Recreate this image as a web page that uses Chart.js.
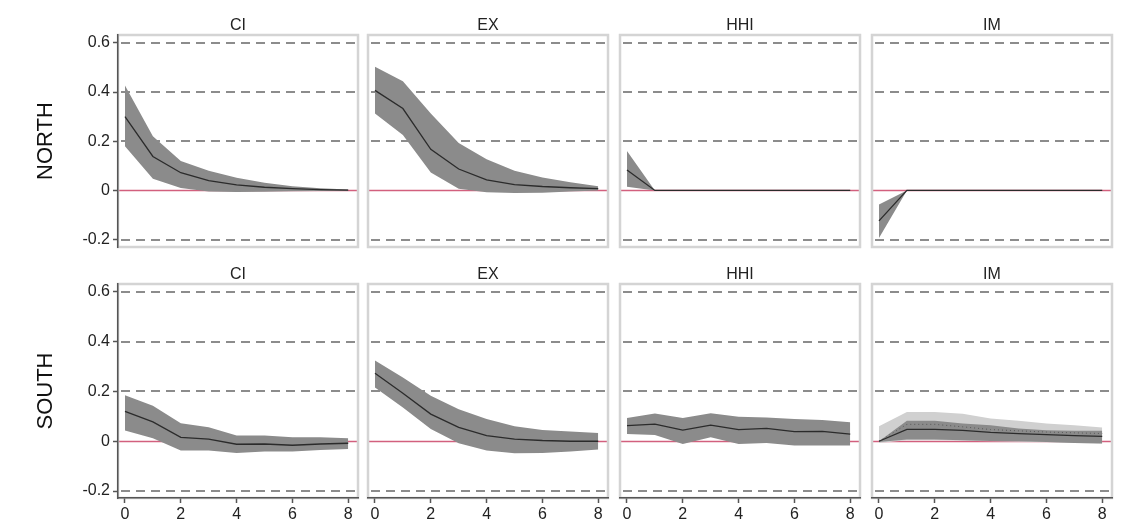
<!DOCTYPE html>
<html>
<head>
<meta charset="utf-8">
<script src="https://cdn.jsdelivr.net/npm/chart.js@4.4.0/dist/chart.umd.min.js"></script>
<style>
  html, body { margin: 0; padding: 0; background: #fff; }
  #wrap { position: relative; width: 1129px; height: 526px; overflow: hidden; }
  #wrap canvas { position: absolute; }
</style>
</head>
<body>
<div id="wrap"></div>
<script>
// Sumbu
const horizons = [0, 1, 2, 3, 4, 5, 6, 7, 8];
const yTickValues = [-0.2, 0, 0.2, 0.4, 0.6];
const xTickValues = [0, 2, 4, 6, 8];
const rowNames = ['NORTH', 'SOUTH'];
const colNames = ['CI', 'EX', 'HHI', 'IM'];

// NORTH
const northCiMid = [0.30, 0.138, 0.072, 0.040, 0.023, 0.013, 0.007, 0.003, 0.001];
const northCiHi  = [0.427, 0.22, 0.12, 0.08, 0.052, 0.031, 0.017, 0.009, 0.004];
const northCiLo  = [0.18, 0.047, 0.01, -0.004, -0.006, -0.005, -0.003, -0.002, -0.001];

const northExMid = [0.407, 0.333, 0.167, 0.087, 0.043, 0.024, 0.016, 0.011, 0.007];
const northExHi  = [0.503, 0.444, 0.313, 0.193, 0.127, 0.08, 0.053, 0.033, 0.017];
const northExLo  = [0.313, 0.225, 0.073, 0.007, -0.007, -0.01, -0.009, -0.004, 0.0];

const northHhiMid = [0.083, 0, 0, 0, 0, 0, 0, 0, 0];
const northHhiHi  = [0.16, 0, 0, 0, 0, 0, 0, 0, 0];
const northHhiLo  = [0.015, 0, 0, 0, 0, 0, 0, 0, 0];

const northImMid = [-0.124, 0, 0, 0, 0, 0, 0, 0, 0];
const northImHi  = [-0.057, 0, 0, 0, 0, 0, 0, 0, 0];
const northImLo  = [-0.193, 0, 0, 0, 0, 0, 0, 0, 0];

// SOUTH
const southCiMid = [0.12, 0.078, 0.016, 0.009, -0.012, -0.011, -0.016, -0.011, -0.008];
const southCiHi  = [0.185, 0.143, 0.072, 0.056, 0.023, 0.023, 0.016, 0.016, 0.012];
const southCiLo  = [0.043, 0.012, -0.037, -0.037, -0.047, -0.041, -0.041, -0.035, -0.031];

const southExMid = [0.273, 0.193, 0.109, 0.056, 0.023, 0.009, 0.003, 0.0, 0.0];
const southExHi  = [0.325, 0.256, 0.183, 0.129, 0.089, 0.06, 0.045, 0.039, 0.033];
const southExLo  = [0.216, 0.136, 0.049, -0.008, -0.037, -0.048, -0.047, -0.041, -0.033];

const southHhiMid = [0.063, 0.069, 0.045, 0.065, 0.047, 0.052, 0.039, 0.04, 0.029];
const southHhiHi  = [0.093, 0.112, 0.093, 0.113, 0.099, 0.096, 0.089, 0.085, 0.076];
const southHhiLo  = [0.029, 0.025, -0.011, 0.016, -0.011, -0.007, -0.017, -0.017, -0.017];

const southImMid    = [0.0, 0.048, 0.048, 0.044, 0.036, 0.031, 0.027, 0.023, 0.02];
const southImDotted = [0.0, 0.068, 0.068, 0.058, 0.047, 0.042, 0.037, 0.034, 0.031];
const southImHi     = [0.0, 0.082, 0.082, 0.071, 0.064, 0.051, 0.044, 0.042, 0.042];
const southImLo     = [-0.003, 0.007, 0.007, 0.004, 0.001, 0.0, -0.003, -0.007, -0.009];
const southImWideHi = [0.06, 0.118, 0.118, 0.111, 0.091, 0.082, 0.071, 0.064, 0.055];
const southImWideLo = [-0.007, 0.004, 0.004, 0.002, 0.0, -0.002, -0.004, -0.007, -0.009];

// Panel per baris / kolom
const panels = [
  [
    { mid: northCiMid, hi: northCiHi, lo: northCiLo },
    { mid: northExMid, hi: northExHi, lo: northExLo },
    { mid: northHhiMid, hi: northHhiHi, lo: northHhiLo },
    { mid: northImMid, hi: northImHi, lo: northImLo }
  ],
  [
    { mid: southCiMid, hi: southCiHi, lo: southCiLo },
    { mid: southExMid, hi: southExHi, lo: southExLo },
    { mid: southHhiMid, hi: southHhiHi, lo: southHhiLo },
    { mid: southImMid, hi: southImHi, lo: southImLo,
      wideHi: southImWideHi, wideLo: southImWideLo, dotted: southImDotted }
  ]
];

// Tata letak (px)
const FONT = "'Liberation Sans', Arial, sans-serif";
const boxLeft = [118, 368, 620, 872];
const boxWidth = 240;
const boxTop = [35, 284];
const boxBottom = [247, 498];
const yRange = [[-0.23, 0.632], [-0.228, 0.632]];
const xRange = [-0.25, 8.35];
const topRowPadBottom = 13;

function pts(values) {
  return horizons.map((h, i) => ({ x: h, y: values[i] }));
}

// Pita: batas bawah + batas atas yang diisi ke dataset sebelumnya
function bandSets(lo, hi, color, order) {
  return [
    { data: pts(lo), borderColor: 'transparent', borderWidth: 0, pointRadius: 0, fill: false, order: order },
    { data: pts(hi), borderColor: 'transparent', borderWidth: 0, pointRadius: 0, fill: '-1', backgroundColor: color, order: order }
  ];
}

// Plugin: kotak, garis putus-putus dan garis nol
const framePlugin = {
  id: 'frame',
  beforeDraw(chart) {
    const ctx = chart.ctx;
    const a = chart.chartArea;
    const y = chart.scales.y;
    ctx.save();
    ctx.lineWidth = 2;
    ctx.strokeStyle = '#8c8c8c';
    ctx.setLineDash([9, 6]);
    yTickValues.forEach(v => {
      if (v === 0) return;
      const py = Math.round(y.getPixelForValue(v));
      ctx.beginPath();
      ctx.moveTo(a.left + 3, py);
      ctx.lineTo(a.right - 2, py);
      ctx.stroke();
    });
    ctx.setLineDash([]);
    const z = Math.round(y.getPixelForValue(0)) + 0.5;
    ctx.strokeStyle = '#d2607e';
    ctx.lineWidth = 1.6;
    ctx.beginPath();
    ctx.moveTo(a.left, z);
    ctx.lineTo(a.right, z);
    ctx.stroke();
    ctx.strokeStyle = '#d4d4d4';
    ctx.lineWidth = 2.5;
    ctx.strokeRect(a.left, a.top, a.right - a.left, a.bottom - a.top);
    ctx.restore();
  }
};

function makePanel(row, col) {
  const p = panels[row][col];
  const isLeft = col === 0;
  const isBottom = row === 1;

  const canvasLeft = isLeft ? 0 : boxLeft[col] - 3;
  const canvasWidth = boxLeft[col] + boxWidth + 3 - canvasLeft;
  const canvasTop = boxTop[row] - 23;
  const canvasHeight = isBottom ? 526 - canvasTop : boxBottom[row] + topRowPadBottom - canvasTop;

  const canvas = document.createElement('canvas');
  canvas.width = canvasWidth;
  canvas.height = canvasHeight;
  canvas.style.left = canvasLeft + 'px';
  canvas.style.top = canvasTop + 'px';
  canvas.style.width = canvasWidth + 'px';
  canvas.style.height = canvasHeight + 'px';
  document.getElementById('wrap').appendChild(canvas);

  let datasets = [];
  if (p.wideHi) datasets = datasets.concat(bandSets(p.wideLo, p.wideHi, '#d0d0d0', 4));
  datasets = datasets.concat(bandSets(p.lo, p.hi, '#8b8b8b', 3));
  if (p.dotted) {
    datasets.push({ data: pts(p.dotted), borderColor: '#5a5a5a', borderWidth: 1, borderDash: [1, 3], pointRadius: 0, fill: false, order: 1 });
  }
  datasets.push({ data: pts(p.mid), borderColor: '#2b2b2b', borderWidth: 1.3, pointRadius: 0, fill: false, order: 0 });

  const axisStyle = {
    border: { display: true, color: '#555', width: 1.5 },
    grid: { drawOnChartArea: false, drawTicks: true, tickLength: 5, tickColor: '#555', tickWidth: 1.5 }
  };

  new Chart(canvas.getContext('2d'), {
    type: 'line',
    data: { datasets },
    options: {
      responsive: false,
      animation: false,
      elements: { line: { tension: 0 } },
      layout: { padding: { left: 3, right: 3, top: 1.2, bottom: isBottom ? 0 : topRowPadBottom } },
      plugins: {
        legend: { display: false },
        tooltip: { enabled: false }
      },
      scales: {
        // sumbu atas hanya untuk judul panel
        xTop: {
          type: 'linear',
          position: 'top',
          min: xRange[0],
          max: xRange[1],
          afterFit: s => { s.height = 21.8; },
          border: { display: false },
          grid: { display: false },
          ticks: { display: false },
          title: {
            display: true,
            text: colNames[col],
            color: '#222',
            font: { family: FONT, size: 16 },
            padding: { top: 2.7, bottom: 0 }
          }
        },
        x: {
          type: 'linear',
          min: xRange[0],
          max: xRange[1],
          display: isBottom,
          afterBuildTicks: s => { s.ticks = xTickValues.map(v => ({ value: v })); },
          afterFit: s => { if (isBottom) s.height = 28; },
          ...axisStyle,
          ticks: {
            color: '#222',
            font: { family: FONT, size: 16 },
            padding: 2,
            maxRotation: 0,
            autoSkip: false,
            callback: v => String(v)
          }
        },
        y: {
          type: 'linear',
          min: yRange[row][0],
          max: yRange[row][1],
          display: isLeft,
          afterBuildTicks: s => { s.ticks = yTickValues.map(v => ({ value: v })); },
          afterFit: s => { if (isLeft) s.width = 115; },
          ...axisStyle,
          title: {
            display: true,
            text: rowNames[row],
            color: '#111',
            font: { family: FONT, size: 22 },
            padding: { top: 30, bottom: 0 }
          },
          ticks: {
            color: '#222',
            font: { family: FONT, size: 16 },
            padding: 3,
            autoSkip: false,
            callback: v => (v === 0 ? '0' : v.toFixed(1))
          }
        }
      }
    },
    plugins: [framePlugin]
  });
}

for (let r = 0; r < 2; r++) {
  for (let c = 0; c < 4; c++) {
    makePanel(r, c);
  }
}
</script>
</body>
</html>
